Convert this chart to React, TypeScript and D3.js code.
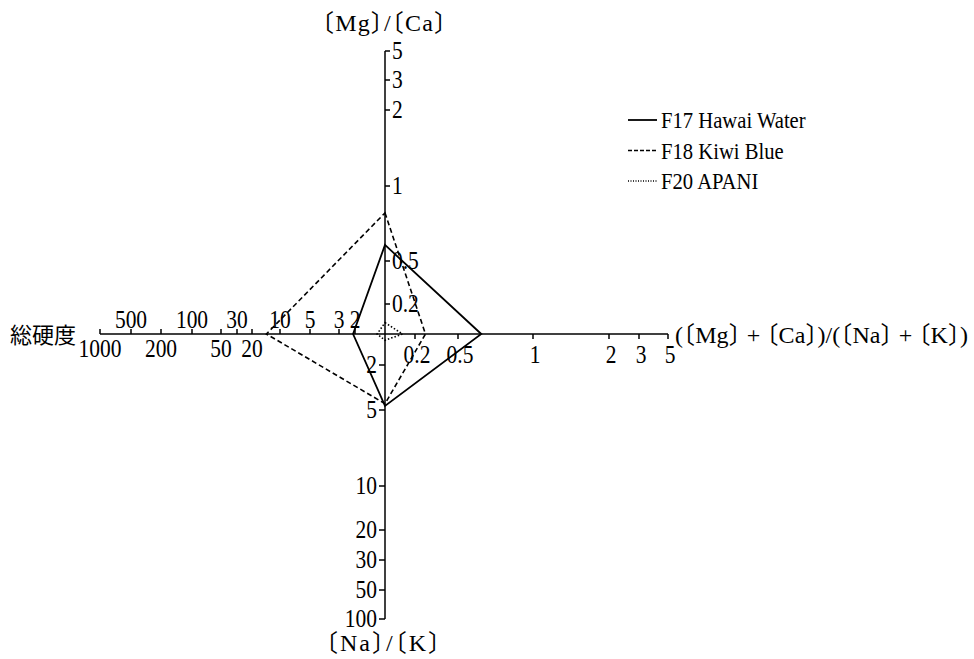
import React from "react";
import * as d3 from "d3";

// Axis tick values (log-like, hand-drawn spacing on each arm)
const ratioTicks = [0.2, 0.5, 1, 2, 3, 5]; // [Mg]/[Ca] (up) and (Mg+Ca)/(Na+K) (right)
const hardnessTicksAbove = [500, 100, 30, 10, 5, 3, 2];
const hardnessTicksBelow = [1000, 200, 50, 20];
const naKTicks = [2, 5, 10, 20, 30, 50, 100];

// Series values: [Mg]/[Ca], ([Mg]+[Ca])/([Na]+[K]), [Na]/[K], total hardness
const seriesNames = ["F17 Hawai Water", "F18 Kiwi Blue", "F20 APANI"];
const mgCa = [0.58, 0.78, 0.13];
const mgCaNaK = [0.62, 0.25, 0.15];
const naK = [4.6, 4.4, 1.15];
const hardness = [2.1, 14, 1.2];

const W = 974;
const H = 659;
const cx = 385;
const cy = 334;
const SERIF = "'Liberation Serif', 'Times New Roman', 'Noto Sans CJK JP', serif";
const CJK = "'Noto Sans CJK JP', sans-serif";

// Piecewise log scales: distance from the centre along each arm
const ratioScale = d3
  .scaleLog()
  .domain([0.1, 0.2, 0.5, 1, 2, 3, 5])
  .range([0, 30, 73, 148, 224, 254, 283]);
const hardnessScale = d3
  .scaleLog()
  .domain([1, 2, 3, 5, 10, 20, 30, 50, 100, 200, 500, 1000])
  .range([0, 30, 46, 75, 105, 133, 148, 164, 193, 224, 254, 285]);
const naKScale = d3
  .scaleLog()
  .domain([1, 2, 5, 10, 20, 30, 50, 100])
  .range([0, 31, 76, 152, 196, 226, 256, 285]);

const dashes = [undefined, "5,3", "1.5,2"];
const widths = [1.8, 1.6, 1.6];

// Narrow, tall serif label
function Lbl(props: {
  x: number;
  y: number;
  anchor?: string;
  size?: number;
  sx?: number;
  children: React.ReactNode;
}) {
  const { x, y, anchor = "start", size = 25, sx = 0.86, children } = props;
  return (
    <text
      transform={`translate(${x},${y}) scale(${sx},1)`}
      textAnchor={anchor}
      fontSize={size}
      fontFamily={SERIF}
      fill="#000"
    >
      {children}
    </text>
  );
}

// Half-width alternates for the CJK tortoise-shell brackets
const titleStyle: React.CSSProperties = { fontFeatureSettings: '"halt"' };

export default function App() {
  const line = d3
    .line<[number, number]>()
    .x((d) => d[0])
    .y((d) => d[1])
    .curve(d3.curveLinearClosed);

  const polys = seriesNames.map((_, i) => {
    const pts: [number, number][] = [
      [cx, cy - ratioScale(mgCa[i])],
      [cx + ratioScale(mgCaNaK[i]), cy],
      [cx, cy + naKScale(naK[i])],
      [cx - hardnessScale(hardness[i]), cy],
    ];
    return line(pts) as string;
  });

  const topEnd = cy - ratioScale(5);
  const rightEnd = cx + ratioScale(5);
  const bottomEnd = cy + naKScale(100);
  const leftEnd = cx - hardnessScale(1000);

  const allHardness = [...hardnessTicksAbove, ...hardnessTicksBelow];

  return (
    <svg
      width={W}
      height={H}
      style={{ position: "absolute", left: 0, top: 0, display: "block", background: "#fff" }}
      fontFamily={SERIF}
    >
      <rect width={W} height={H} fill="#fff" />
      <g stroke="#000" strokeWidth={1.5} fill="none">
        <line x1={leftEnd} y1={cy} x2={rightEnd} y2={cy} />
        <line x1={cx} y1={topEnd} x2={cx} y2={bottomEnd} />
        {/* up arm ticks, to the right */}
        {ratioTicks.map((t) => (
          <line key={"tu" + t} x1={cx} x2={cx + 5} y1={cy - ratioScale(t)} y2={cy - ratioScale(t)} />
        ))}
        {/* right arm ticks, downward */}
        {ratioTicks.map((t) => (
          <line key={"tr" + t} x1={cx + ratioScale(t)} x2={cx + ratioScale(t)} y1={cy} y2={cy + 5} />
        ))}
        {/* bottom arm ticks, to the left */}
        {naKTicks.map((t) => (
          <line key={"tb" + t} x1={cx - 6} x2={cx} y1={cy + naKScale(t)} y2={cy + naKScale(t)} />
        ))}
        {/* left arm ticks, upward */}
        {allHardness.map((t) => (
          <line key={"tl" + t} x1={cx - hardnessScale(t)} x2={cx - hardnessScale(t)} y1={cy - 5} y2={cy} />
        ))}
      </g>

      {ratioTicks.map((t) => (
        <Lbl key={"lu" + t} x={cx + 7} y={cy - ratioScale(t) + 8}>
          {t}
        </Lbl>
      ))}
      {ratioTicks.map((t) => (
        <Lbl key={"lr" + t} x={cx + ratioScale(t) + 2} y={cy + 29} anchor="middle">
          {t}
        </Lbl>
      ))}
      {naKTicks.map((t) => (
        <Lbl key={"lb" + t} x={cx - 8} y={cy + naKScale(t) + 8} anchor="end">
          {t}
        </Lbl>
      ))}
      {hardnessTicksAbove.map((t) => (
        <Lbl key={"la" + t} x={cx - hardnessScale(t)} y={cy - 6} anchor="middle">
          {t}
        </Lbl>
      ))}
      {hardnessTicksBelow.map((t) => (
        <Lbl key={"lbw" + t} x={cx - hardnessScale(t)} y={cy + 23} anchor="middle">
          {t}
        </Lbl>
      ))}

      {/* axis titles */}
      <g fill="#000" fontFamily={SERIF}>
        <text x={322} y={31} fontSize={24} style={titleStyle} textLength={124} lengthAdjust="spacing">
          〔Mg〕/〔Ca〕
        </text>
        <text x={326} y={651} fontSize={24} style={titleStyle} textLength={114} lengthAdjust="spacing">
          〔Na〕/〔K〕
        </text>
        <text x={675} y={343} fontSize={24} style={titleStyle} textLength={293} lengthAdjust="spacing">
          (〔Mg〕 + 〔Ca〕)/(〔Na〕 + 〔K〕)
        </text>
        <text x={10} y={343} fontSize={22} fontFamily={CJK}>
          総硬度
        </text>
      </g>

      {/* series */}
      {polys.map((d, i) => (
        <path
          key={"p" + i}
          d={d}
          fill="none"
          stroke="#000"
          strokeWidth={widths[i]}
          strokeDasharray={dashes[i]}
          strokeLinejoin="miter"
        />
      ))}

      {/* legend */}
      <g>
        {seriesNames.map((name, i) => {
          const y = 120 + i * 30.5;
          return (
            <g key={"lg" + i}>
              <line
                x1={628}
                x2={657}
                y1={y}
                y2={y}
                stroke="#000"
                strokeWidth={i === 0 ? 1.8 : 1.5}
                strokeDasharray={i === 0 ? undefined : i === 1 ? "4,2" : "1,1.5"}
              />
              <Lbl x={661} y={y + 8} size={24} sx={0.86}>
                {name}
              </Lbl>
            </g>
          );
        })}
      </g>
    </svg>
  );
}
